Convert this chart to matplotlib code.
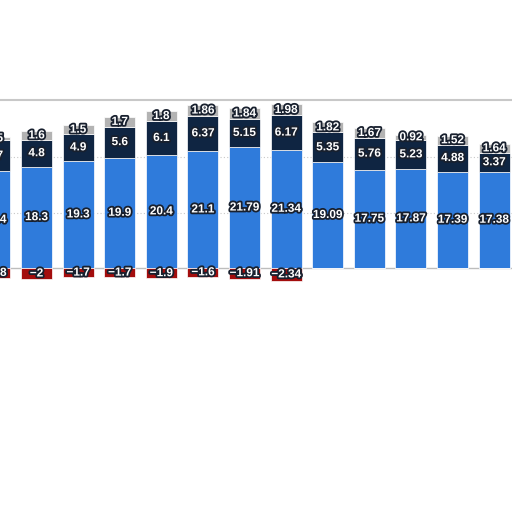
import matplotlib
matplotlib.use("Agg")
import matplotlib.pyplot as plt
import matplotlib.patheffects as pe
import numpy as np

# ---- data ----
blue = [17.4, 18.3, 19.3, 19.9, 20.4, 21.1, 21.79, 21.34, 19.09, 17.75, 17.87, 17.39, 17.38]
navy = [5.7, 4.8, 4.9, 5.6, 6.1, 6.37, 5.15, 6.17, 5.35, 5.76, 5.23, 4.88, 3.37]
gray = [0.5, 1.6, 1.5, 1.7, 1.8, 1.86, 1.84, 1.98, 1.82, 1.67, 0.92, 1.52, 1.64]
red = [-1.8, -2, -1.7, -1.7, -1.9, -1.6, -1.91, -2.34, 0, 0, 0, 0, 0]

C_BLUE = "#2f7bdb"
C_NAVY = "#0f2542"
C_GRAY = "#b3b3b3"
C_RED = "#a30d0d"

plt.rcParams['font.family'] = ['Liberation Sans', 'DejaVu Sans']

fig = plt.figure(figsize=(5.12, 5.12), dpi=100)
ax = fig.add_axes([0, 0, 1, 412 / 512])

x = np.arange(len(blue))
w = 0.745
b = np.array(blue)
n = np.array(navy)
g = np.array(gray)
r = np.array(red)

ax.bar(x, b, width=w, color=C_BLUE, edgecolor="white", linewidth=0.5, zorder=3)
ax.bar(x, n, width=w, bottom=b, color=C_NAVY, edgecolor="white", linewidth=0.5, zorder=3)
ax.bar(x, g, width=w, bottom=b + n, color=C_GRAY, edgecolor="white", linewidth=0.5, zorder=3)
ax.bar(x, r, width=w, color=C_RED, edgecolor="white", linewidth=0.5, zorder=3)

def fmt(v):
    return f"{v:g}".replace("-", "\u2212")

effects = [pe.withStroke(linewidth=2.6, foreground="#18202e")]
kw = dict(ha="center", va="center", color="white", fontsize=8.5, fontweight="bold",
          path_effects=effects, zorder=5, clip_on=True)
for i in range(len(x)):
    ax.text(x[i], b[i] / 2, fmt(b[i]), **kw)
    ax.text(x[i], b[i] + n[i] / 2, fmt(n[i]), **kw)
    ax.text(x[i], b[i] + n[i] + g[i] / 2, fmt(g[i]), **kw)
    if r[i] != 0:
        ax.text(x[i], r[i] / 2, fmt(r[i]), **kw)

ax.set_xlim(0.1226, 12.43)
ax.set_ylim(-44.04, 30.3)

for yv in (10, 20):
    ax.axhline(yv, color="#c8c8c8", linestyle=(0, (1, 2)), linewidth=0.8, zorder=1)
ax.axhline(0, color="#bdbdbd", linewidth=1.0, zorder=2)

for s in ("left", "right", "bottom"):
    ax.spines[s].set_visible(False)
ax.spines["top"].set_color("#c8c8c8")
ax.spines["top"].set_linewidth(1.5)
ax.set_xticks([])
ax.set_yticks([])

fig.savefig("out.png", dpi=100)
